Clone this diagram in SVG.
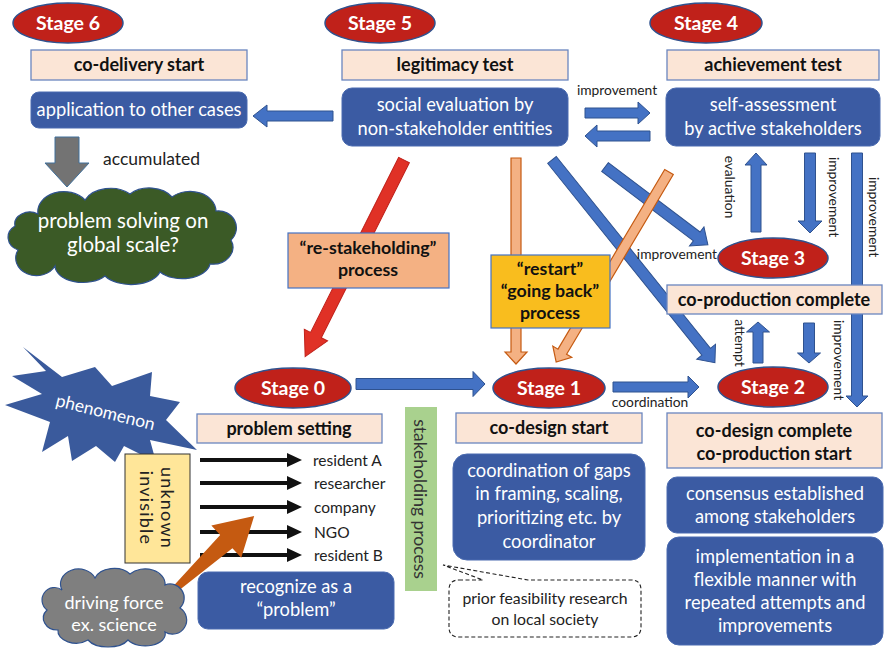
<svg xmlns="http://www.w3.org/2000/svg" width="885" height="652" viewBox="0 0 885 652">
  <style>
    text { font-family: Lato, "Open Sans", "Liberation Sans", sans-serif; }
    .stage { fill: #c0211a; stroke: #2f528f; stroke-width: 1.5; }
    .stage-t { fill: #fff; font-weight: bold; font-size: 19.5px; text-anchor: middle; }
    .head { fill: #fbe5d6; stroke: #6a86bf; stroke-width: 1.3; }
    .head-t { fill: #111; font-weight: bold; font-size: 18px; text-anchor: middle; }
    .card { fill: #3b5ba3; stroke: #4a6bb0; stroke-width: 1; }
    .card-t { fill: #fff; font-size: 18.3px; text-anchor: middle; }
    .barrow { fill: #4472c4; stroke: #2f528f; stroke-width: 1; }
    .oarrow { fill: #f4b183; stroke: #c55a11; stroke-width: 1.2; }
    .lbl { fill: #222; font-size: 13.8px; }
    .lbl-m { fill: #222; font-size: 13.8px; text-anchor: middle; }
    .actor { fill: #222; font-size: 15.5px; }
    .proc-t { fill: #111; font-weight: bold; font-size: 17.8px; text-anchor: middle; }
  </style>

  <!-- connectors -->
  <g id="connectors">
    <!-- social evaluation -> application to other cases -->
    <polygon class="barrow" points="0,-5 66,-5 66,-11 80,0 66,11 66,5 0,5" transform="translate(333,116) rotate(180)"/>
    <!-- Stage 5 <-> Stage 4 -->
    <polygon class="barrow" points="0,-5 53,-5 53,-11 65,0 53,11 53,5 0,5" transform="translate(585,113)"/>
    <polygon class="barrow" points="0,-5 53,-5 53,-11 65,0 53,11 53,5 0,5" transform="translate(650,136) rotate(180)"/>
    <!-- Stage 3 <-> self-assessment -->
    <polygon class="barrow" points="0,-5 67,-5 67,-11 79,0 67,11 67,5 0,5" transform="translate(756,232) rotate(-90)"/>
    <polygon class="barrow" points="0,-5.5 68,-5.5 68,-12 80,0 68,12 68,5.5 0,5.5" transform="translate(810,153) rotate(90)"/>
    <!-- self-assessment -> co-design complete -->
    <polygon class="barrow" points="0,-5.5 243,-5.5 243,-11 254,0 243,11 243,5.5 0,5.5" transform="translate(857,153) rotate(90)"/>
    <!-- Stage 2 <-> co-production complete -->
    <polygon class="barrow" points="0,-5 31,-5 31,-11.5 41,0 31,11.5 31,5 0,5" transform="translate(758,363) rotate(-90)"/>
    <polygon class="barrow" points="0,-5.5 30,-5.5 30,-11.5 40,0 30,11.5 30,5.5 0,5.5" transform="translate(809,323) rotate(90)"/>
    <!-- Stage 0 -> Stage 1 -> Stage 2 -->
    <polygon class="barrow" points="0,-5.5 117,-5.5 117,-12.5 129,0 117,12.5 117,5.5 0,5.5" transform="translate(356,384)"/>
    <polygon class="barrow" points="0,-5 75,-5 75,-11 86,0 75,11 75,5 0,5" transform="translate(613,387)"/>
    <!-- social evaluation -> Stage 3 / Stage 2 -->
    <polygon class="barrow" points="0,-5.5 115,-5.5 115,-12 129,0 115,12 115,5.5 0,5.5" transform="translate(605,167) rotate(37.1)"/>
    <polygon class="barrow" points="0,-5.5 246,-5.5 246,-12 260,0 246,12 246,5.5 0,5.5" transform="translate(552,160) rotate(51.2)"/>
    <!-- re-stakeholding -->
    <polygon fill="#e03126" stroke="#c0211a" stroke-width="1" points="0,-6 196,-6 196,-13 220,0 196,13 196,6 0,6" transform="translate(404,160) rotate(116.7)"/>
    <!-- restart / going back -->
    <polygon class="oarrow" points="0,-5 194,-5 194,-11 206,0 194,11 194,5 0,5" transform="translate(516,158) rotate(90)"/>
    <polygon class="oarrow" points="0,-5 209,-5 209,-11 221,0 209,11 209,5 0,5" transform="translate(669,172) rotate(120.7)"/>
    <!-- accumulated -->
    <polygon fill="#737373" stroke="#41719c" stroke-width="1" points="0,-12 26,-12 26,-22 50,0 26,22 26,12 0,12" transform="translate(67,137) rotate(90)"/>
    <!-- stakeholders -->
    <g fill="#111" stroke="#111">
      <line x1="200" y1="460" x2="289" y2="460" stroke-width="4"/>
      <polygon points="287,453 302,460 287,467" stroke="none"/>
      <line x1="200" y1="483" x2="289" y2="483" stroke-width="4"/>
      <polygon points="287,476 302,483 287,490" stroke="none"/>
      <line x1="200" y1="507" x2="289" y2="507" stroke-width="4"/>
      <polygon points="287,500 302,507 287,514" stroke="none"/>
      <line x1="200" y1="532" x2="289" y2="532" stroke-width="4"/>
      <polygon points="287,525 302,532 287,539" stroke="none"/>
      <line x1="200" y1="555" x2="289" y2="555" stroke-width="4"/>
      <polygon points="287,548 302,555 287,562" stroke="none"/>
    </g>
    <!-- arrow labels -->
    <text class="lbl-m" x="617" y="95">improvement</text>
    <text class="lbl" x="717" y="259" text-anchor="end">improvement</text>
    <text class="lbl-m" x="650" y="407">coordination</text>
    <text class="lbl-m" transform="translate(725,187) rotate(90)">evaluation</text>
    <text class="lbl-m" transform="translate(829,197) rotate(90)">improvement</text>
    <text class="lbl-m" font-size="13px" transform="translate(869,217) rotate(90)">improvement</text>
    <text class="lbl-m" transform="translate(735,343) rotate(90)">attempt</text>
    <text class="lbl-m" transform="translate(834,360) rotate(90)">improvement</text>
    <text x="103" y="165" fill="#222" font-size="17.5px">accumulated</text>
  </g>

  <!-- Stage 6 -->
  <g id="stage6">
    <ellipse class="stage" cx="68" cy="23" rx="55" ry="20"/>
    <text class="stage-t" x="68" y="30">Stage 6</text>
    <rect class="head" x="31" y="50" width="216" height="30"/>
    <text class="head-t" x="139" y="71">co-delivery start</text>
    <rect class="card" x="31" y="92" width="216" height="36" rx="8"/>
    <text class="card-t" x="139" y="116">application to other cases</text>
  </g>

  <!-- Stage 5 -->
  <g id="stage5">
    <ellipse class="stage" cx="380" cy="23" rx="55" ry="20"/>
    <text class="stage-t" x="380" y="30">Stage 5</text>
    <rect class="head" x="342" y="50" width="226" height="30"/>
    <text class="head-t" x="455" y="71">legitimacy test</text>
    <rect class="card" x="342" y="88" width="226" height="58" rx="10"/>
    <text class="card-t" x="455" y="111">social evaluation by</text>
    <text class="card-t" x="455" y="135">non-stakeholder entities</text>
  </g>

  <!-- Stage 4 -->
  <g id="stage4">
    <ellipse class="stage" cx="706" cy="23" rx="56" ry="20"/>
    <text class="stage-t" x="706" y="30">Stage 4</text>
    <rect class="head" x="667" y="50" width="212" height="30"/>
    <text class="head-t" x="773" y="71">achievement test</text>
    <rect class="card" x="666" y="88" width="214" height="58" rx="10"/>
    <text class="card-t" x="773" y="111">self-assessment</text>
    <text class="card-t" x="773" y="135">by active stakeholders</text>
  </g>

  <!-- global scale outcome -->
  <g id="global-cloud">
    <path fill="#3b5a26" stroke="#2f528f" stroke-width="1.2" d="M 38,214 A 26,20 0 0 1 85,200 A 28,20 0 0 1 130,194 A 26,18 0 0 1 172,197 A 26,20 0 0 1 216,211 A 18,17 0 0 1 231,240 A 20,17 0 0 1 210,264 A 28,17 0 0 1 160,272 A 30,17 0 0 1 105,276 A 28,17 0 0 1 55,266 A 20,17 0 0 1 18,250 A 17,14 0 0 1 15,226 A 15,12 0 0 1 38,214 Z"/>
    <text fill="#fff" font-size="20.5px" text-anchor="middle" x="123" y="228">problem solving on</text>
    <text fill="#fff" font-size="20.5px" text-anchor="middle" x="123" y="252">global scale?</text>
  </g>

  <!-- re-stakeholding process -->
  <g id="restakeholding">
    <rect x="288" y="233" width="161" height="55" fill="#f4b183" stroke="#4472c4" stroke-width="1.2"/>
    <text class="proc-t" x="368" y="254">“re-stakeholding”</text>
    <text class="proc-t" x="368" y="276">process</text>
  </g>

  <!-- restart / going back process -->
  <g id="restart">
    <rect x="491" y="255" width="119" height="73" fill="#f9bd1e" stroke="#4472c4" stroke-width="1.2"/>
    <text class="proc-t" x="550" y="275">“restart”</text>
    <text class="proc-t" x="550" y="297">“going back”</text>
    <text class="proc-t" x="550" y="319">process</text>
  </g>

  <!-- Stage 3 -->
  <g id="stage3">
    <ellipse class="stage" cx="773" cy="258" rx="55" ry="20"/>
    <text class="stage-t" x="773" y="265">Stage 3</text>
    <rect class="head" x="667" y="285" width="215" height="29"/>
    <text class="head-t" x="774" y="306">co-production complete</text>
  </g>

  <!-- Stage 2 -->
  <g id="stage2">
    <ellipse class="stage" cx="773" cy="387" rx="55" ry="20"/>
    <text class="stage-t" x="773" y="394">Stage 2</text>
    <rect class="head" x="667" y="413" width="215" height="55"/>
    <text class="head-t" x="774" y="437">co-design complete</text>
    <text class="head-t" x="774" y="460">co-production start</text>
    <rect class="card" x="667" y="477" width="216" height="56" rx="10"/>
    <text class="card-t" x="775" y="500">consensus established</text>
    <text class="card-t" x="775" y="523">among stakeholders</text>
    <rect class="card" x="667" y="537" width="216" height="108" rx="12"/>
    <text class="card-t" x="775" y="563">implementation in a</text>
    <text class="card-t" x="775" y="586">flexible manner with</text>
    <text class="card-t" x="775" y="609">repeated attempts and</text>
    <text class="card-t" x="775" y="632">improvements</text>
  </g>

  <!-- Stage 1 -->
  <g id="stage1">
    <ellipse class="stage" cx="549" cy="388" rx="56" ry="20"/>
    <text class="stage-t" x="549" y="395">Stage 1</text>
    <rect class="head" x="456" y="413" width="186" height="30"/>
    <text class="head-t" x="549" y="434">co-design start</text>
    <rect class="card" x="453" y="454" width="192" height="106" rx="14"/>
    <text class="card-t" x="549" y="477">coordination of gaps</text>
    <text class="card-t" x="549" y="500">in framing, scaling,</text>
    <text class="card-t" x="549" y="524">prioritizing etc. by</text>
    <text class="card-t" x="549" y="548">coordinator</text>
  </g>

  <!-- prior research callout -->
  <g id="prior-research">
    <path fill="#fff" stroke="#222" stroke-width="1.1" stroke-dasharray="4 2.5" d="M 459,580 L 483,580 L 443,565 L 528,580 L 631,580 Q 641,580 641,590 L 641,627 Q 641,637 631,637 L 459,637 Q 449,637 449,627 L 449,590 Q 449,580 459,580 Z"/>
    <text fill="#222" font-size="15.8px" text-anchor="middle" x="545" y="604">prior feasibility research</text>
    <text fill="#222" font-size="15.8px" text-anchor="middle" x="545" y="625">on local society</text>
  </g>

  <!-- stakeholding process band -->
  <g id="stakeholding">
    <rect x="405" y="407" width="32" height="184" fill="#a9d18e"/>
    <text fill="#333" font-size="17.5px" text-anchor="middle" transform="translate(414,499) rotate(90)">stakeholding process</text>
  </g>

  <!-- phenomenon -->
  <g id="phenomenon">
    <polygon fill="#3a5a9c" points="23,347 62,377 95,367 112,386 152,372 150,396 180,402 166,420 197,450 150,440 156,462 124,446 115,462 96,446 72,461 68,436 42,452 50,422 5,405 42,394 12,376 46,371"/>
    <text fill="#fff" font-size="17.5px" text-anchor="middle" transform="translate(104,418) rotate(14)">phenomenon</text>
  </g>

  <!-- Stage 0 -->
  <g id="stage0">
    <ellipse class="stage" cx="293" cy="388" rx="58" ry="20"/>
    <text class="stage-t" x="293" y="395">Stage 0</text>
    <rect class="head" x="197" y="414" width="185" height="29"/>
    <text class="head-t" x="289" y="435">problem setting</text>
  </g>

  <!-- hidden state -->
  <g id="unknown">
    <rect x="125" y="454" width="65" height="109" fill="#ffe699" stroke="#333" stroke-width="1"/>
    <text fill="#222" font-size="18px" letter-spacing="1.2" text-anchor="middle" transform="translate(161,508) rotate(90)">unknown</text>
    <text fill="#222" font-size="18px" letter-spacing="1.2" text-anchor="middle" transform="translate(140,508) rotate(90)">invisible</text>
  </g>

  <!-- stakeholders -->
  <g id="actors">
    <text class="actor" x="313" y="466">resident A</text>
    <text class="actor" x="314" y="489">researcher</text>
    <text class="actor" x="314" y="513">company</text>
    <text class="actor" x="314" y="538">NGO</text>
    <text class="actor" x="314" y="561">resident B</text>
  </g>

  <!-- recognize as a problem -->
  <g id="recognize">
    <rect class="card" x="198" y="572" width="196" height="57" rx="10"/>
    <text class="card-t" x="296" y="593">recognize as a</text>
    <text class="card-t" x="296" y="616">“problem”</text>
  </g>

  <!-- driving force -->
  <g id="driving-force">
    <polygon fill="#c55a11" points="0,-3 74,-9 74,-22 112,0 74,22 74,9 0,3" transform="translate(172,592) rotate(-42.8)"/>
    <path fill="#7f7f7f" stroke="#2f528f" stroke-width="1.2" d="M 62,590 A 18,15 0 0 1 95,578 A 20,14 0 0 1 130,574 A 20,15 0 0 1 165,585 A 14,14 0 0 1 180,608 A 14,14 0 0 1 165,632 A 20,12 0 0 1 128,640 A 22,12 0 0 1 88,640 A 18,12 0 0 1 58,630 A 14,12 0 0 1 47,610 A 12,12 0 0 1 62,590 Z"/>
    <text fill="#fff" font-size="18px" text-anchor="middle" x="114" y="609">driving force</text>
    <text fill="#fff" font-size="18px" text-anchor="middle" x="114" y="631">ex. science</text>
  </g>
</svg>
